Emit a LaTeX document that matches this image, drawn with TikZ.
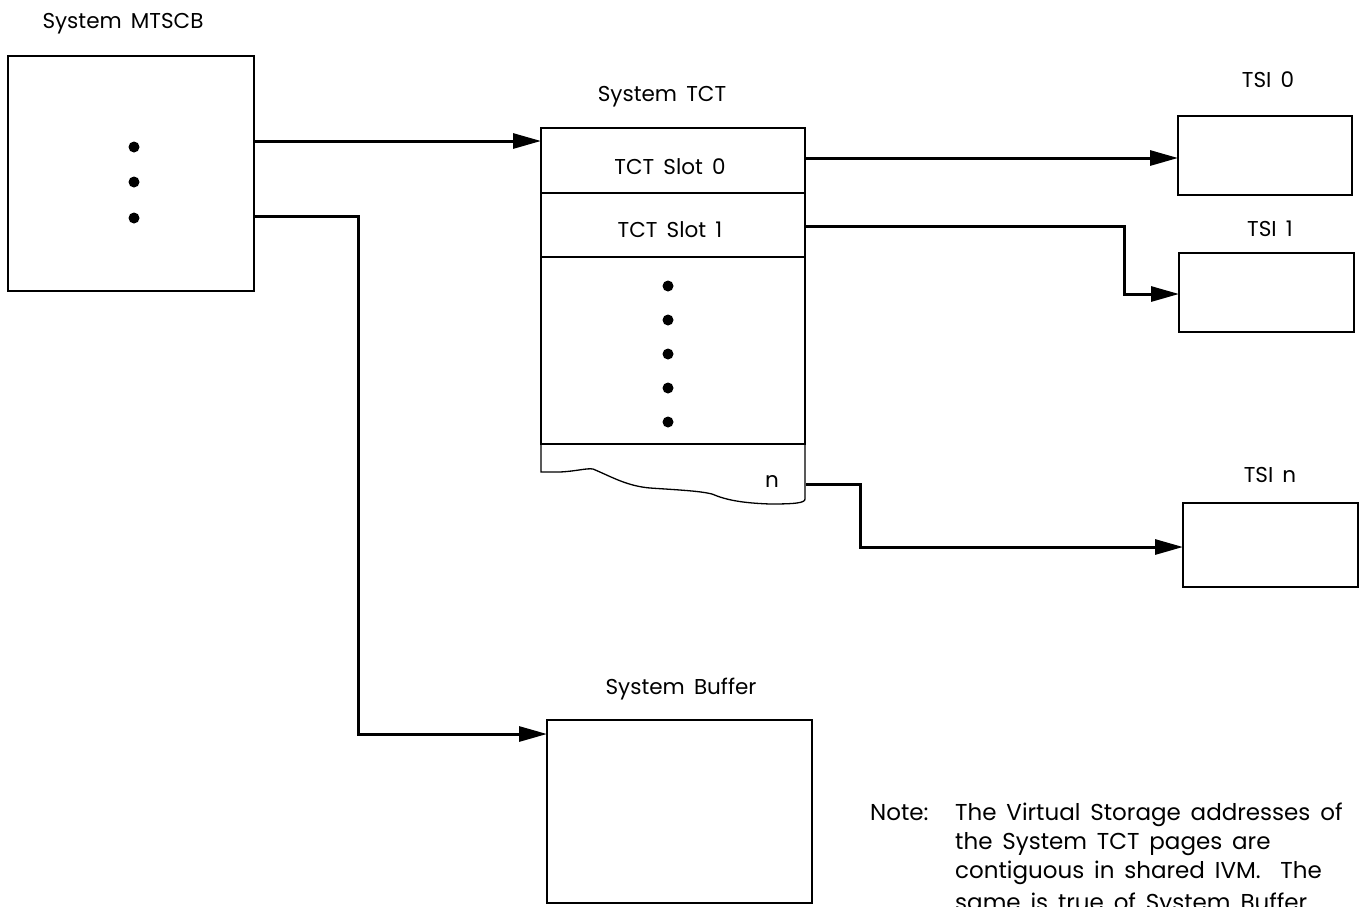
\documentclass[tikz,border=0pt]{standalone}
\usepackage{fontspec}
\setmainfont[WordSpace=1.6]{Poppins}
\usetikzlibrary{arrows.meta,calc}
\tikzset{
  box/.style={draw, line width=1.3pt, inner sep=0pt, outer sep=0pt},
  conn/.style={line width=3pt, -{Triangle[length=28pt,width=15pt]}},
  lbl/.style={anchor=base, inner sep=0pt, font=\fontsize{21.5}{26}\selectfont},
  notel/.style={anchor=base west, inner sep=0pt, font=\fontsize{23}{28}\selectfont},
  dot/.style={circle, fill=black, inner sep=0pt, minimum size=11pt},
}
\newcommand{\boxnode}[6][]{%
  \node[box,#1, minimum width={(#5-#3)*1pt}, minimum height={(#6-#4)*1pt}] (#2) at ({(#3+#5)/2},{(#4+#6)/2}) {};}
\begin{document}
\begin{tikzpicture}[x=1pt,y=-1pt]
\useasboundingbox (0,0) rectangle (1367,906);
\clip (0,0) rectangle (1367,906);
% boxes
\boxnode{mtscb}{8}{56}{254}{291}
\boxnode{slot0}{541}{128}{805}{193}
\boxnode{slot1}{541}{193}{805}{257}
\boxnode{tctmid}{541}{257}{805}{444}
\boxnode{tsi0}{1178}{116}{1352}{195}
\boxnode{tsi1}{1179}{253}{1354}{332}
\boxnode{tsin}{1183}{503}{1358}{587}
\boxnode{buffer}{547}{720}{812}{903}
% torn bottom of TCT
\draw[line width=1.3pt] (tctmid.south west) -- (541,472) -- (560,472)
  .. controls (578,471) and (586,468) .. (593,469)
  .. controls (612,477) and (627,486) .. (650,488)
  .. controls (680,490) and (700,491) .. (712,494)
  .. controls (726,500) and (742,503) .. (770,504)
  .. controls (795,504) and (805,503) .. (805,499) -- (tctmid.south east);
% dots
\foreach \y [count=\i] in {147,182,218} \node[dot] (md\i) at (134,\y) {};
\foreach \y [count=\i] in {286,320,354,388,422} \node[dot] (td\i) at (668,\y) {};
% labels
\node[lbl] (lmtscb) at (123,28) {System MTSCB};
\node[lbl] (ltct) at (662,101) {System TCT};
\node[lbl] (ls0) at (670,174) {TCT Slot 0};
\node[lbl] (ls1) at (670,237) {TCT Slot 1};
\node[lbl] (ltsi0) at (1268,87) {TSI 0};
\node[lbl] (ltsi1) at (1270,236) {TSI 1};
\node[lbl] (ltsin) at (1270,482) {TSI n};
\node[lbl] (lbuf) at (681,694) {System Buffer};
\node[lbl] (ln) at (772,487) {n};
\node[notel] (note) at (870,820) {Note:};
\node[notel] (n1) at (955,820) {The Virtual Storage addresses of};
\node[notel] (n2) at (955,849) {the System TCT pages are};
\node[notel] (n3) at (955,878) {contiguous in shared IVM.\ \ The};
\node[notel] (n4) at (955,910) {same is true of System Buffer};
% connectors
\coordinate (m1) at (254,141);
\coordinate (m2) at (254,216);
\coordinate (s0) at (805,158);
\coordinate (s1) at (805,226);
\coordinate (sn) at (806,484);
\draw[conn] (m1) -- (m1 -| slot0.west);
\draw[conn] (m2) -- (358,216) -- (358,734) -- (buffer.west |- 0,734);
\draw[conn] (s0) -- (s0 -| tsi0.west);
\draw[conn] (s1) -- (1124,226) -- (1124,294) -- (tsi1.west |- 0,294);
\draw[conn] (sn) -- (860,484) -- (860,547) -- (tsin.west |- 0,547);
\end{tikzpicture}
\end{document}
